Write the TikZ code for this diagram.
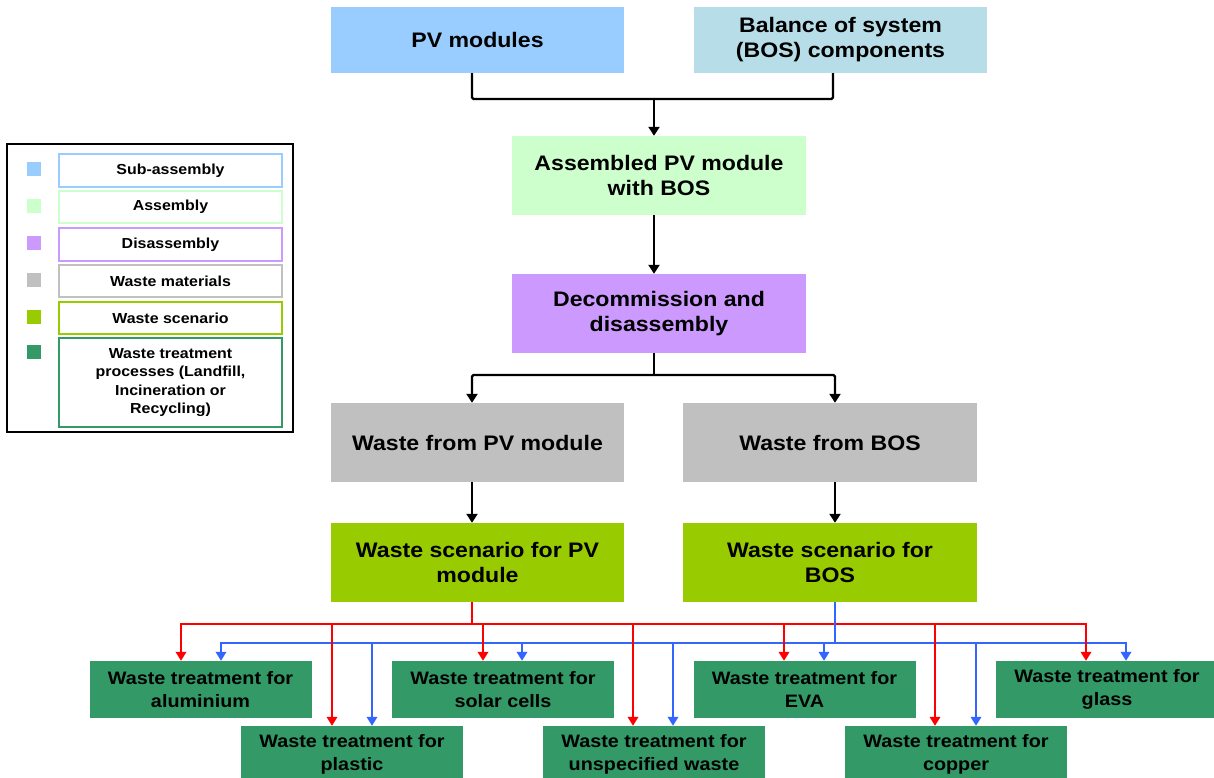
\documentclass[tikz,border=0pt]{standalone}
\usepackage{fontspec}
\setmainfont{Liberation Sans}[FakeStretch=1.1]
\usetikzlibrary{arrows.meta}
\definecolor{cSub}{HTML}{99CCFF}
\definecolor{cBos}{HTML}{B7DEE8}
\definecolor{cAsm}{HTML}{CCFFCC}
\definecolor{cDis}{HTML}{CC99FF}
\definecolor{cGray}{HTML}{C0C0C0}
\definecolor{cScen}{HTML}{99CC00}
\definecolor{cTreat}{HTML}{339966}
\definecolor{cRed}{HTML}{FF0000}
\definecolor{cBlue}{HTML}{3366FF}
\begin{document}
\begin{tikzpicture}[x=1pt,y=-1pt,
  box/.style={rectangle, inner sep=0pt, align=center, text=black,
    font=\bfseries\fontsize{21}{25}\selectfont},
  tbox/.style={rectangle, fill=cTreat, minimum width=222pt, minimum height=57pt,
    inner sep=0pt, align=center, text=black, font=\bfseries\fontsize{18}{22.5}\selectfont},
  lgbox/.style={rectangle, draw, line width=2pt, fill=white, minimum width=223pt,
    inner sep=0pt, align=center, font=\bfseries\fontsize{14.5}{18.3}\selectfont},
  lgsq/.style={rectangle, minimum size=13.5pt, inner sep=0pt},
  blk/.style={line width=2.4pt, black, rounded corners=1.5pt},
  blkarr/.style={blk, -{Triangle[width=11pt,length=9pt]}},
  redl/.style={line width=2pt, cRed},
  redarr/.style={redl, -{Triangle[width=10.5pt,length=9pt]}},
  bluel/.style={line width=2pt, cBlue},
  bluearr/.style={bluel, -{Triangle[width=10.5pt,length=9pt]}}
]
\useasboundingbox (0,0) rectangle (1214,778);
\fill[white] (0,0) rectangle (1214,778);

% ---- main flow ----
\node[box, fill=cSub, minimum width=293pt, minimum height=66pt] (pv) at (477.5,40) {PV modules};
\node[box, fill=cBos, minimum width=293pt, minimum height=66pt] (bos) at (840.5,40) {Balance of system\\(BOS) components};
\node[box, fill=cAsm, minimum width=294pt, minimum height=79pt] (asm) at (659,175.5) {Assembled PV module\\with BOS};
\node[box, fill=cDis, minimum width=294pt, minimum height=79pt] (dis) at (659,313.5) {Decommission and\\disassembly};
\node[box, fill=cGray, minimum width=293pt, minimum height=79pt] (wpv) at (477.5,442.5) {Waste from PV module};
\node[box, fill=cGray, minimum width=294pt, minimum height=79pt] (wbos) at (830,442.5) {Waste from BOS};
\node[box, fill=cScen, minimum width=293pt, minimum height=79pt] (spv) at (477.5,562.5) {Waste scenario for PV\\module};
\node[box, fill=cScen, minimum width=294pt, minimum height=79pt] (sbos) at (830,562.5) {Waste scenario for\\BOS};

% ---- treatment boxes ----
\node[tbox] (alu) at (200.5,689.5) {Waste treatment for\\aluminium};
\node[tbox] (sol) at (503,689.5) {Waste treatment for\\solar cells};
\node[tbox] (eva) at (804.5,689.5) {Waste treatment for\\EVA};
\node[tbox] (gla) at (1107,689.5) {Waste treatment for\\glass};
\node[tbox] (pla) at (352,754.5) {Waste treatment for\\plastic};
\node[tbox] (uns) at (654,754.5) {Waste treatment for\\unspecified waste};
\node[tbox] (cop) at (956,754.5) {Waste treatment for\\copper};

% ---- black connectors ----
\coordinate (j1) at (654,99);
\draw[blk] ([xshift=-5.5pt]pv.south) |- (j1) -| ([xshift=-7.5pt]bos.south);
\draw[blkarr] (j1) -- ([xshift=-5pt]asm.north);
\draw[blkarr] ([xshift=-5pt]asm.south) -- ([xshift=-5pt]dis.north);
\coordinate (j2) at (654,375);
\draw[blk] ([xshift=-5pt]dis.south) -- (j2);
\draw[blkarr] (j2) -| ([xshift=-5.5pt]wpv.north);
\draw[blkarr] (j2) -| ([xshift=5pt]wbos.north);
\draw[blkarr] ([xshift=-5.5pt]wpv.south) -- ([xshift=-5.5pt]spv.north);
\draw[blkarr] ([xshift=5pt]wbos.south) -- ([xshift=5pt]sbos.north);

% ---- blue connectors (BOS scenario) ----
\coordinate (bj) at (835,643);
\foreach \t/\s in {alu/20.5, sol/19, eva/19.5, gla/19, pla/20, uns/19, cop/20}{
  \draw[bluearr] (bj) -| ([xshift=\s pt]\t.north);
}
% ---- red connectors (PV scenario) ----
\coordinate (rj) at (472,624);
\draw[redl] ([xshift=-5.5pt]spv.south) -- (rj);
\foreach \t/\s in {alu/-19.5, sol/-20, eva/-20.5, gla/-21, pla/-20, uns/-21, cop/-21}{
  \draw[redarr] (rj) -| ([xshift=\s pt]\t.north);
}
\draw[bluel] ([xshift=5pt]sbos.south) -- (bj);

% ---- legend ----
\node[draw, line width=2.5pt, minimum width=286pt, minimum height=288pt, inner sep=0pt] (legend) at (150,288) {};
\node[lgbox, draw=cSub, minimum height=33pt] (lg1) at (170.5,170.5) {Sub-assembly};
\node[lgbox, draw=cAsm, minimum height=32pt] (lg2) at (170.5,207) {Assembly};
\node[lgbox, draw=cDis, minimum height=33pt] (lg3) at (170.5,244.5) {Disassembly};
\node[lgbox, draw=cGray, minimum height=32pt] (lg4) at (170.5,281) {Waste materials};
\node[lgbox, draw=cScen, minimum height=32pt] (lg5) at (170.5,318) {Waste scenario};
\node[lgbox, draw=cTreat, minimum height=89pt] (lg6) at (170.5,382.5) {Waste treatment\\processes (Landfill,\\Incineration or\\Recycling)};
\node[lgsq, fill=cSub] (sq1) at (34,169) {};
\node[lgsq, fill=cAsm] (sq2) at (34,206) {};
\node[lgsq, fill=cDis] (sq3) at (34,243) {};
\node[lgsq, fill=cGray] (sq4) at (34,280) {};
\node[lgsq, fill=cScen] (sq5) at (34,317) {};
\node[lgsq, fill=cTreat] (sq6) at (34,352) {};
\end{tikzpicture}
\end{document}
